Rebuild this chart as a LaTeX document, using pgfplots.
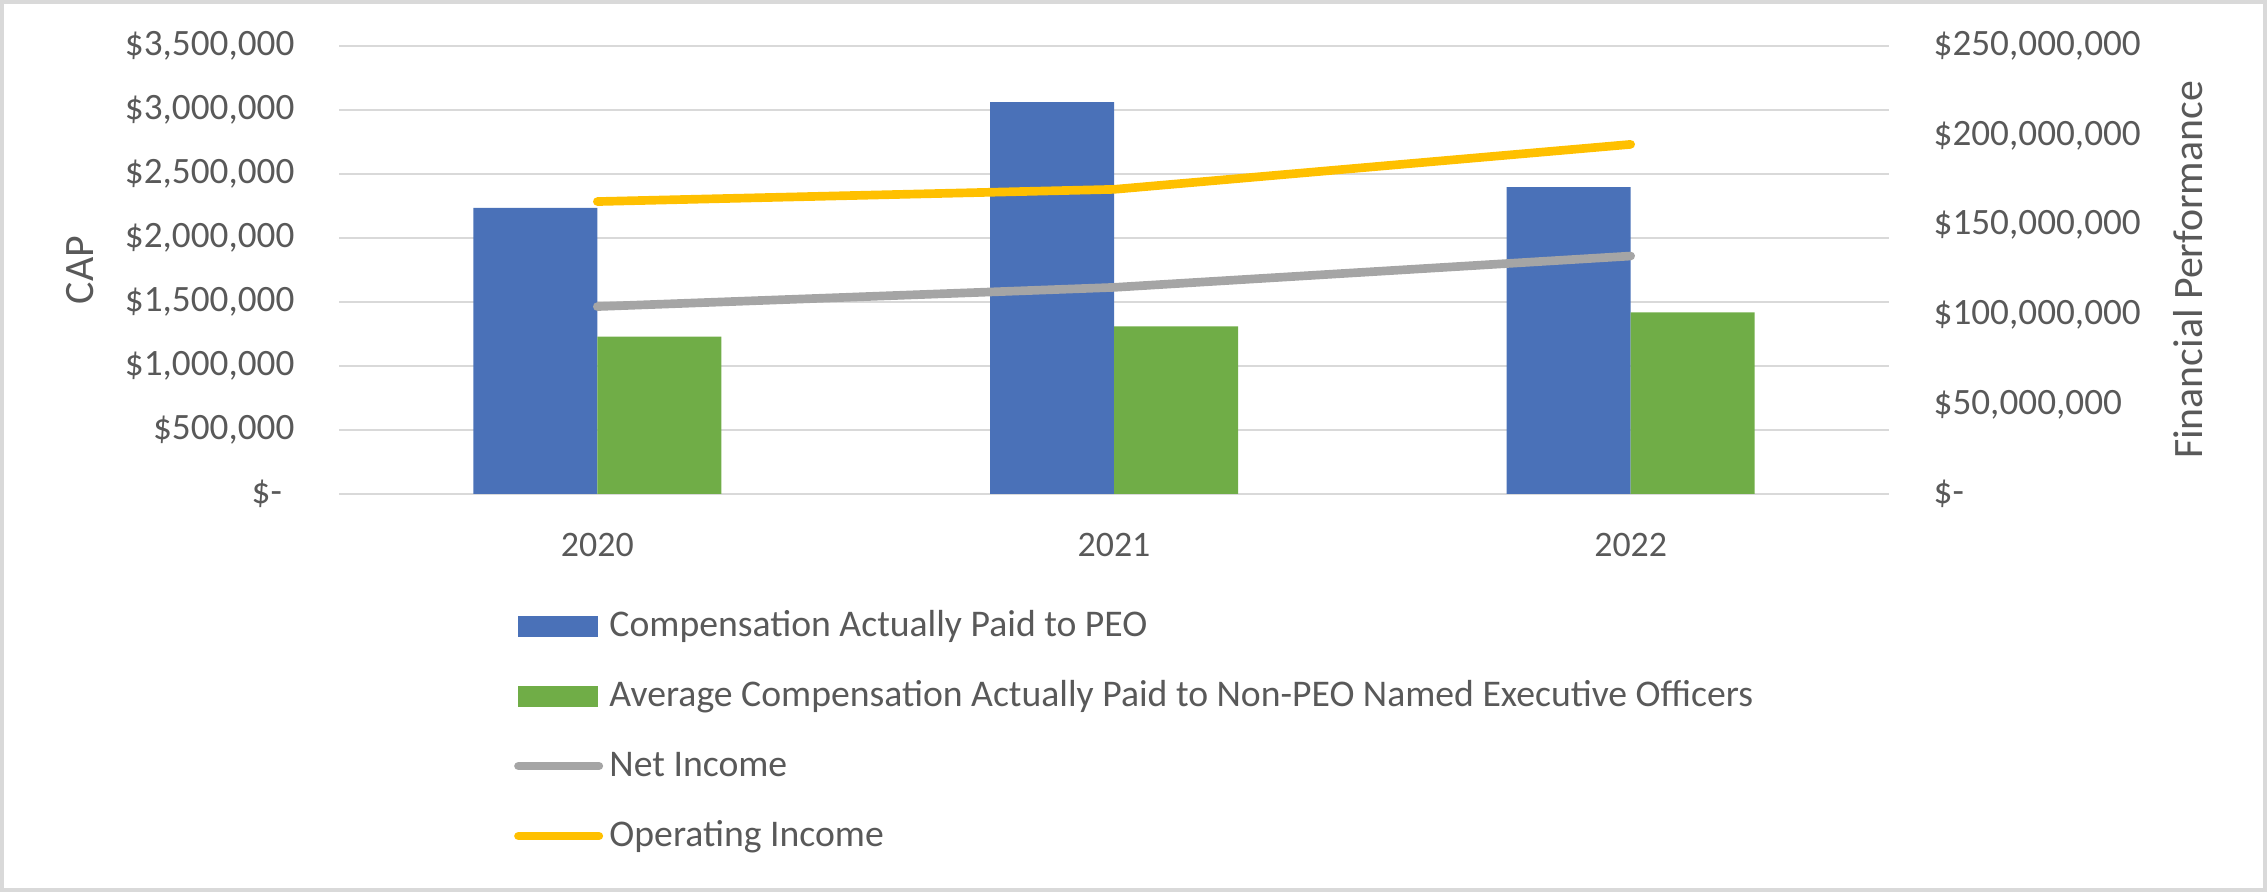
\documentclass[border=0pt]{standalone}
\usepackage{pgfplots}
\pgfplotsset{compat=1.18}
\usepackage{fontspec}
\setmainfont{Carlito}

\definecolor{peo}{HTML}{4A71B8}
\definecolor{neo}{HTML}{70AD47}
\definecolor{netinc}{HTML}{A5A5A5}
\definecolor{opinc}{HTML}{FFC000}
\definecolor{txt}{HTML}{595959}
\definecolor{gridc}{HTML}{D9D9D9}

\pgfplotsset{
  capaxis/.style={
    scale only axis, width=465bp, height=134.4bp,
    at={(101.7bp,119.4bp)}, anchor=south west,
    xmin=-0.5, xmax=2.5, ymin=0,
    axis line style={draw=none},
    major tick length=0pt,
    tick style={draw=none},
    scaled y ticks=false,
  },
  lineleg/.style={legend image code/.code={\path[draw=none] (0bp,0bp) -- (26.7bp,0bp); \draw[##1] (1.3bp,0bp) -- (25.4bp,0bp);}},
  barleg/.style={legend image code/.code={\path[draw=none] (0bp,0bp) -- (26.7bp,0bp); \fill[#1, draw=none] (1.2bp,-3.15bp) rectangle (25.2bp,3.15bp);}},
}

\begin{document}
\begin{tikzpicture}
\useasboundingbox (0,0) rectangle (680.1bp,267.6bp);
\draw[gridc, line width=1.2bp] (0.6bp,0.6bp) rectangle (679.5bp,267bp);

% left axis: compensation actually paid (bars)
\begin{axis}[
  capaxis,
  ymax=3500000,
  ytick={0,500000,1000000,1500000,2000000,2500000,3000000,3500000},
  yticklabels={\makebox[12.8bp][l]{\$-},\$500{,}000,\$1{,}000{,}000,\$1{,}500{,}000,\$2{,}000{,}000,\$2{,}500{,}000,\$3{,}000{,}000,\$3{,}500{,}000},
  yticklabel style={font=\fontsize{11.2}{13}\selectfont, text=txt, anchor=east, inner sep=0pt, xshift=-13.2bp},
  xtick={0,1,2},
  xticklabels={2020,2021,2022},
  xticklabel style={font=\fontsize{10.8}{13}\selectfont, text=txt, anchor=north, inner sep=0pt, yshift=-11.7bp},
  ymajorgrids,
  grid style={gridc, line width=0.8bp},
  ylabel={CAP},
  every axis y label/.style={at={(axis description cs:-0.1671,0.5)}, rotate=90, anchor=center, font=\fontsize{12.6}{15}\selectfont, text=txt},
]
\addplot[ybar, bar width=0.24, bar shift=-0.12, fill=peo, draw=none]
  coordinates {(0,2236000) (1,3062000) (2,2398000)};
\addplot[ybar, bar width=0.24, bar shift=0.12, fill=neo, draw=none]
  coordinates {(0,1230000) (1,1310000) (2,1419000)};
\end{axis}

% right axis: financial performance (lines)
\begin{axis}[
  capaxis,
  ymax=250000000,
  axis y line*=right,
  xtick=\empty,
  ytick={0,50000000,100000000,150000000,200000000,250000000},
  yticklabels={\$-,\$50{,}000{,}000,\$100{,}000{,}000,\$150{,}000{,}000,\$200{,}000{,}000,\$250{,}000{,}000},
  yticklabel style={font=\fontsize{11.2}{13}\selectfont, text=txt, anchor=west, inner sep=0pt, xshift=13.2bp},
  ylabel={Financial Performance},
  every axis y label/.style={at={(axis description cs:1.1929,0.5)}, rotate=90, anchor=center, font=\fontsize{12.6}{15}\selectfont, text=txt},
  legend cell align=left,
  legend style={
    at={(axis description cs:0.113,-0.265)}, anchor=north west,
    draw=none, fill=none, inner sep=0pt, outer sep=0pt,
    font=\fontsize{11.35}{13}\selectfont, text=txt,
    row sep=13bp, column sep=1.9bp,
    nodes={inner sep=0pt, text height=7bp, text depth=1bp},
  },
]
\addlegendimage{barleg=peo}
\addlegendentry{Compensation Actually Paid to PEO}
\addlegendimage{barleg=neo}
\addlegendentry{Average Compensation Actually Paid to Non-PEO Named Executive Officers}
\addplot[netinc, line width=2.6bp, line cap=round, line join=round, lineleg]
  coordinates {(0,104600000) (1,115300000) (2,132800000)};
\addlegendentry{Net Income}
\addplot[opinc, line width=2.6bp, line cap=round, line join=round, lineleg]
  coordinates {(0,163200000) (1,170000000) (2,195100000)};
\addlegendentry{Operating Income}
\end{axis}
\end{tikzpicture}
\end{document}
